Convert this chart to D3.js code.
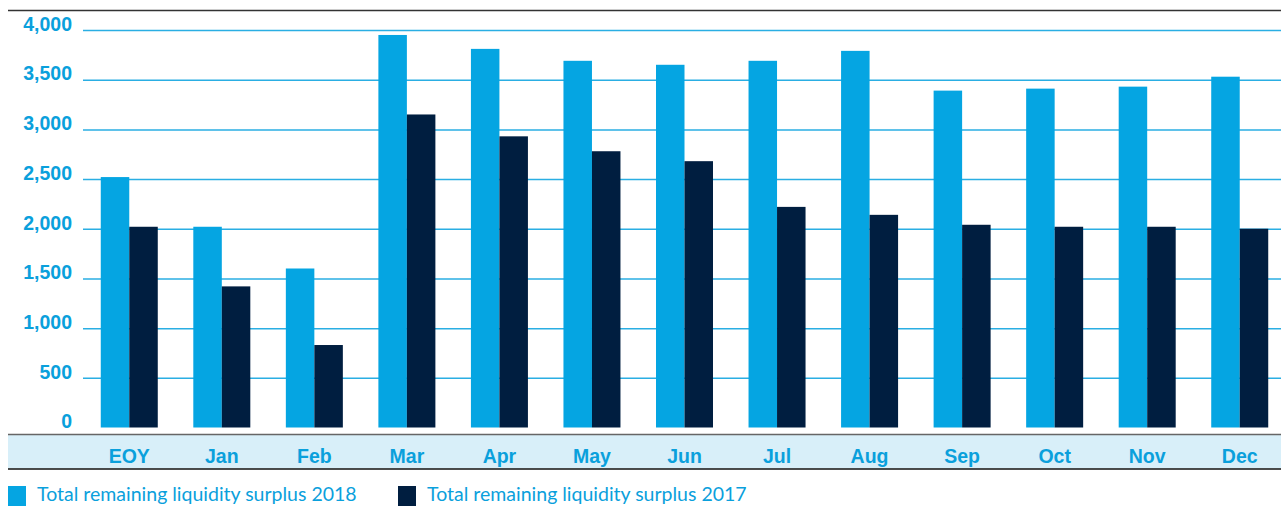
<!DOCTYPE html>
<html>
<head>
<meta charset="utf-8">
<script src="https://cdnjs.cloudflare.com/ajax/libs/d3/7.8.5/d3.min.js"></script>
<style>
  body { margin: 0; background: #fff; overflow: hidden; }
  svg { display: block; font-family: Lato, "Open Sans", sans-serif; }
</style>
</head>
<body>
<svg width="1281" height="506"></svg>
<script>
// data
var months = ["EOY", "Jan", "Feb", "Mar", "Apr", "May", "Jun", "Jul", "Aug", "Sep", "Oct", "Nov", "Dec"];
var surplus2018 = [2520, 2020, 1600, 3950, 3810, 3690, 3650, 3690, 3790, 3390, 3410, 3430, 3530];
var surplus2017 = [2020, 1420, 830, 3150, 2930, 2780, 2680, 2220, 2140, 2040, 2020, 2020, 2000];
var yTicks = [0, 500, 1000, 1500, 2000, 2500, 3000, 3500, 4000];
var seriesNames = ["Total remaining liquidity surplus 2018", "Total remaining liquidity surplus 2017"];

var blue = "#05a5e2", navy = "#001e40", txt = "#0aa0dc";

var svg = d3.select("svg"),
    width = +svg.attr("width"),
    height = +svg.attr("height");

var x0 = d3.scaleBand().domain(months).range([83, 1286]).paddingInner(0.384).paddingOuter(0.192);
var x1 = d3.scaleBand().domain(["2018", "2017"]).range([0, x0.bandwidth()]);
var y = d3.scaleLinear().domain([0, 4000]).range([427.5, 30]);

// top rule (title sits above the crop)
svg.append("line")
    .attr("x1", 8).attr("x2", width)
    .attr("y1", 10.5).attr("y2", 10.5)
    .attr("stroke", "#333").attr("stroke-width", 1.5);

// gridlines + y labels
var yAxis = d3.axisLeft(y).tickValues(yTicks).tickSize(0).tickPadding(11)
    .tickFormat(d3.format(","));
var gy = svg.append("g").attr("transform", "translate(83,0)").call(yAxis);
gy.select(".domain").remove();
gy.selectAll("text")
    .attr("fill", txt)
    .attr("y", -6)
    .style("font-size", "19.5px")
    .style("font-weight", "bold");
gy.selectAll(".tick").filter(function (d) { return d > 0; })
  .append("line")
    .attr("x1", 0).attr("x2", width - 83)
    .attr("stroke", "#2aaee3").attr("stroke-width", 1.5);

// bars
var groups = svg.append("g").selectAll("g")
    .data(months)
    .enter().append("g")
    .attr("transform", function (d) { return "translate(" + x0(d) + ",0)"; });

groups.append("rect")
    .attr("x", x1("2018"))
    .attr("width", x1.bandwidth())
    .attr("y", function (d, i) { return y(surplus2018[i]); })
    .attr("height", function (d, i) { return y(0) - y(surplus2018[i]); })
    .attr("fill", blue);

groups.append("rect")
    .attr("x", x1("2017"))
    .attr("width", x1.bandwidth())
    .attr("y", function (d, i) { return y(surplus2017[i]); })
    .attr("height", function (d, i) { return y(0) - y(surplus2017[i]); })
    .attr("fill", navy);

// category band
svg.append("rect")
    .attr("x", 8).attr("y", 435).attr("width", width - 8).attr("height", 33.5)
    .attr("fill", "#d8eff9");
svg.append("line")
    .attr("x1", 8).attr("x2", width).attr("y1", 434.5).attr("y2", 434.5)
    .attr("stroke", "#666").attr("stroke-width", 1.5);
svg.append("line")
    .attr("x1", 8).attr("x2", width).attr("y1", 469).attr("y2", 469)
    .attr("stroke", "#111").attr("stroke-width", 1.5);

var xAxis = d3.axisBottom(x0).tickSize(0).tickPadding(0);
var gx = svg.append("g").attr("transform", "translate(0,447)").call(xAxis);
gx.select(".domain").remove();
gx.selectAll("text")
    .attr("fill", txt)
    .attr("dy", "0.8em")
    .style("font-size", "19.5px")
    .style("font-weight", "bold");

// legend
var legendX = [8, 398];
var legend = svg.append("g").selectAll("g")
    .data(seriesNames)
    .enter().append("g")
    .attr("transform", function (d, i) { return "translate(" + legendX[i] + ",486)"; });
legend.append("rect")
    .attr("width", 18).attr("height", 20)
    .attr("fill", function (d, i) { return i === 0 ? blue : navy; });
legend.append("text")
    .attr("x", 29).attr("y", 15)
    .attr("fill", txt)
    .style("font-size", "19.5px")
    .text(function (d) { return d; });
</script>
</body>
</html>
